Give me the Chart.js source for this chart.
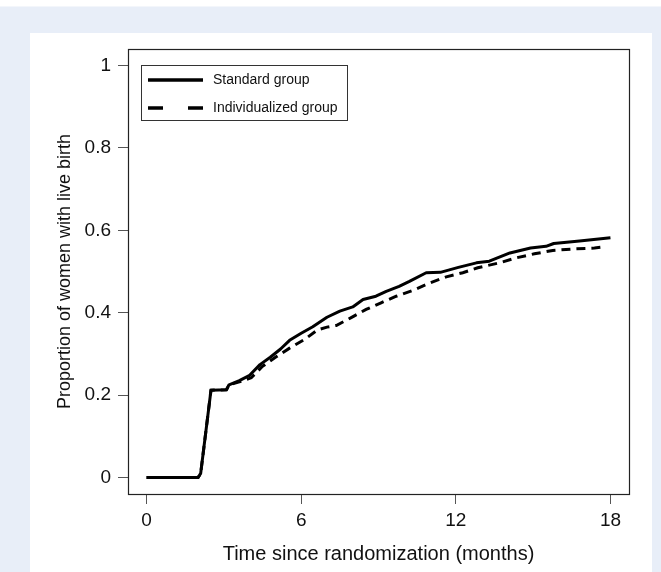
<!DOCTYPE html>
<html>
<head>
<meta charset="utf-8">
<script src="https://cdn.jsdelivr.net/npm/chart.js@4.4.1/dist/chart.umd.min.js"></script>
<style>
  html, body { margin: 0; padding: 0; background: #ffffff; }
  canvas { display: block; }
</style>
</head>
<body>
<canvas id="c" width="661" height="572"></canvas>
<script>
// ---- Data ----
const seriesNames = ["Standard group", "Individualized group"];

const standardTime = [0, 2.0, 2.1, 2.5, 3.1, 3.2, 3.6, 4.0, 4.4, 4.8, 5.2, 5.55, 6.0, 6.45, 7.0, 7.5, 8.0, 8.4, 8.9, 9.3, 9.8, 10.2, 10.85, 11.4, 12.1, 12.8, 13.3, 14.1, 14.9, 15.5, 15.8, 16.8, 18.0];
const standardProp = [0, 0, 0.01, 0.212, 0.213, 0.225, 0.235, 0.248, 0.274, 0.292, 0.312, 0.333, 0.35, 0.366, 0.389, 0.404, 0.414, 0.432, 0.44, 0.452, 0.464, 0.476, 0.497, 0.498, 0.510, 0.521, 0.525, 0.545, 0.557, 0.561, 0.568, 0.574, 0.582];

const individualizedTime = [0, 2.0, 2.1, 2.5, 3.1, 3.2, 3.6, 4.06, 4.5, 5.03, 5.55, 6.13, 6.63, 7.0, 7.36, 7.94, 8.52, 9.1, 9.69, 10.33, 10.98, 11.63, 12.27, 12.85, 13.69, 14.34, 15.05, 15.76, 16.6, 17.38, 17.8];
const individualizedProp = [0, 0, 0.01, 0.212, 0.213, 0.225, 0.232, 0.242, 0.270, 0.293, 0.314, 0.335, 0.358, 0.365, 0.369, 0.388, 0.408, 0.424, 0.440, 0.454, 0.472, 0.487, 0.497, 0.509, 0.521, 0.533, 0.543, 0.551, 0.555, 0.557, 0.560];

const xTickValues = [0, 6, 12, 18];
const xTickLabels = ["0", "6", "12", "18"];
const yTickValues = [0, 0.2, 0.4, 0.6, 0.8, 1];
const yTickLabels = ["0", "0.2", "0.4", "0.6", "0.8", "1"];

const xTitle = "Time since randomization (months)";
const yTitle = "Proportion of women with live birth";

// ---- Build points ----
const toPoints = (xs, ys) => xs.map((x, i) => ({ x: x, y: ys[i] }));

const FONT = "'Liberation Sans', Arial, Helvetica, sans-serif";

const backgroundPlugin = {
  id: 'bg',
  beforeDraw(chart) {
    const ctx = chart.ctx;
    ctx.save();
    ctx.fillStyle = '#ffffff';
    ctx.fillRect(0, 0, 661, 572);
    ctx.fillStyle = '#e8eef8';
    ctx.fillRect(0, 6.5, 661, 566);
    ctx.fillStyle = '#ffffff';
    ctx.fillRect(30, 33, 622, 540);
    ctx.restore();
  }
};

const boxLegendPlugin = {
  id: 'boxLegend',
  afterDraw(chart) {
    const ctx = chart.ctx;
    const a = chart.chartArea;
    ctx.save();
    // plot box
    ctx.strokeStyle = '#222';
    ctx.lineWidth = 1.2;
    ctx.strokeRect(a.left + 0.5, a.top + 0.5, a.right - a.left, a.bottom - a.top);
    // legend box
    const lx = 141, ly = 65, lw = 206, lh = 55;
    ctx.lineWidth = 1;
    ctx.strokeStyle = '#333';
    ctx.strokeRect(lx + 0.5, ly + 0.5, lw, lh);
    const rows = [80, 108];
    chart.data.datasets.forEach((ds, i) => {
      const y = rows[i];
      ctx.beginPath();
      ctx.strokeStyle = ds.borderColor;
      ctx.lineWidth = 3.5;
      ctx.lineCap = 'butt';
      ctx.setLineDash(i === 1 ? [15, 25] : []);
      ctx.moveTo(148, y);
      ctx.lineTo(203, y);
      ctx.stroke();
      ctx.setLineDash([]);
      ctx.fillStyle = '#111';
      ctx.font = '14px ' + FONT;
      ctx.textBaseline = 'middle';
      ctx.textAlign = 'left';
      ctx.fillText(ds.label, 213, y);
    });
    ctx.restore();
  }
};

new Chart(document.getElementById('c'), {
  type: 'line',
  data: {
    datasets: [
      {
        label: seriesNames[0],
        data: toPoints(standardTime, standardProp),
        borderColor: '#000000',
        borderWidth: 3,
        pointRadius: 0,
        tension: 0,
        fill: false,
        borderJoinStyle: 'round'
      },
      {
        label: seriesNames[1],
        data: toPoints(individualizedTime, individualizedProp),
        borderColor: '#000000',
        borderWidth: 3,
        borderDash: [9, 6],
        pointRadius: 0,
        tension: 0,
        fill: false
      }
    ]
  },
  options: {
    responsive: false,
    animation: false,
    devicePixelRatio: 1,
    layout: { padding: { top: 49, right: 32, left: 0, bottom: 0 } },
    plugins: { legend: { display: false }, tooltip: { enabled: false } },
    scales: {
      x: {
        type: 'linear',
        min: -0.72,
        max: 18.72,
        afterBuildTicks(scale) { scale.ticks = xTickValues.map(v => ({ value: v })); },
        afterFit(scale) { scale.height = 78; },
        ticks: {
          callback: (v) => xTickLabels[xTickValues.indexOf(v)],
          color: '#111',
          font: { family: FONT, size: 19 },
          padding: 5,
          maxRotation: 0,
          autoSkip: false
        },
        grid: { display: true, drawOnChartArea: false, drawTicks: true, tickLength: 10, color: '#555', lineWidth: 1 },
        border: { display: false },
        title: { display: true, text: xTitle, color: '#111', font: { family: FONT, size: 20 }, padding: { top: 0, bottom: 6 } }
      },
      y: {
        type: 'linear',
        min: -0.04,
        max: 1.04,
        afterBuildTicks(scale) { scale.ticks = yTickValues.map(v => ({ value: v })); },
        afterFit(scale) { scale.width = 128; },
        ticks: {
          callback: (v) => yTickLabels[yTickValues.indexOf(v)],
          color: '#111',
          font: { family: FONT, size: 19 },
          padding: 7,
          autoSkip: false
        },
        grid: { display: true, drawOnChartArea: false, drawTicks: true, tickLength: 10, color: '#555', lineWidth: 1 },
        border: { display: false },
        title: { display: true, text: yTitle, color: '#111', font: { family: FONT, size: 18 }, padding: { top: 54, bottom: 0 } }
      }
    }
  },
  plugins: [backgroundPlugin, boxLegendPlugin]
});
</script>
</body>
</html>
